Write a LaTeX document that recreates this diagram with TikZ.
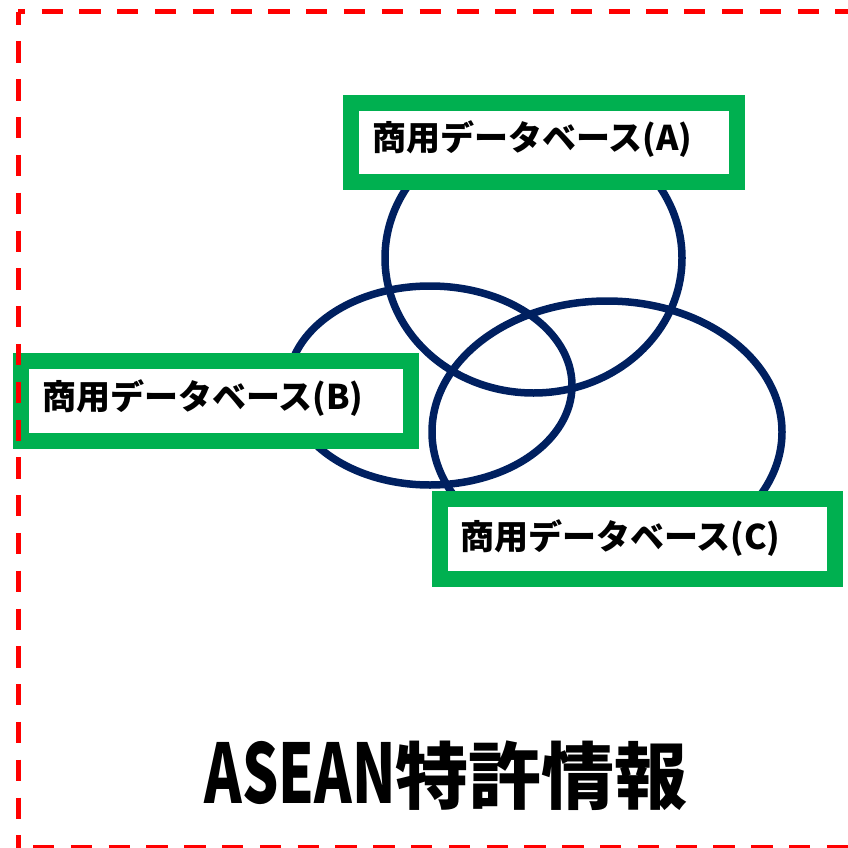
\documentclass[tikz,border=0pt]{standalone}
\usepackage{fontspec}
\usepackage{graphicx}
\usetikzlibrary{shapes.geometric}
\newfontfamily\jp{Noto Sans CJK JP}
\definecolor{boxgreen}{HTML}{00B050}
\definecolor{navyring}{HTML}{002060}
\definecolor{dashred}{HTML}{FF0000}
\begin{document}
\begin{tikzpicture}[x=1pt,y=-1pt,
  setring/.style={draw=navyring, line width=7.5pt, ellipse, inner sep=0pt, outer sep=0pt},
  dbbox/.style={draw=boxgreen, fill=white, line width=16pt, rectangle, inner sep=0pt, outer sep=0pt},
  dblabel/.style={font={\jp\bfseries\fontsize{34pt}{34pt}\selectfont}, anchor=base west, inner sep=0pt},
  border/.style={draw=dashred, line width=5pt, dash pattern=on 21.3pt off 16.5pt}]
\useasboundingbox (0,0) rectangle (848,848);
\clip (0,0) rectangle (848,848);
% sets
\node[setring, minimum width=297pt, minimum height=270pt] (ellA) at (533.5,258) {};
\node[setring, minimum width=284pt, minimum height=199pt] (ellB) at (430,385.5) {};
\node[setring, minimum width=350pt, minimum height=262pt] (ellC) at (607,432) {};
% boxes
\node[dbbox, minimum width=386pt, minimum height=79pt] (boxA) at (544,142.5) {};
\node[dbbox, minimum width=390pt, minimum height=80pt] (boxB) at (216,401) {};
\node[dbbox, minimum width=395pt, minimum height=80pt] (boxC) at (637.5,539) {};
\node[dblabel] (labA) at (372,150) {商用データベース(A)};
\node[dblabel] (labB) at (42,409) {商用データベース(B)};
\node[dblabel] (labC) at (460,549.5) {商用データベース(C)};
% title
\node[font=\jp\bfseries, anchor=base, inner sep=0pt] (title) at (446,803)
  {\scalebox{0.695}[1]{\fontsize{82pt}{82pt}\selectfont ASEAN}\fontsize{73pt}{73pt}\selectfont 特許情報};
% dashed frame
\coordinate (tl) at (18,12);
\coordinate (tr) at (860,12);
\coordinate (bl) at (18,847.5);
\coordinate (br) at (860,847.5);
\draw[border, dash phase=14.3pt] (tl) -- (tr);
\draw[border, dash phase=8.3pt] (tl) -- (bl);
\draw[border, dash phase=22.8pt] (bl) -- (br);
\end{tikzpicture}
\end{document}
